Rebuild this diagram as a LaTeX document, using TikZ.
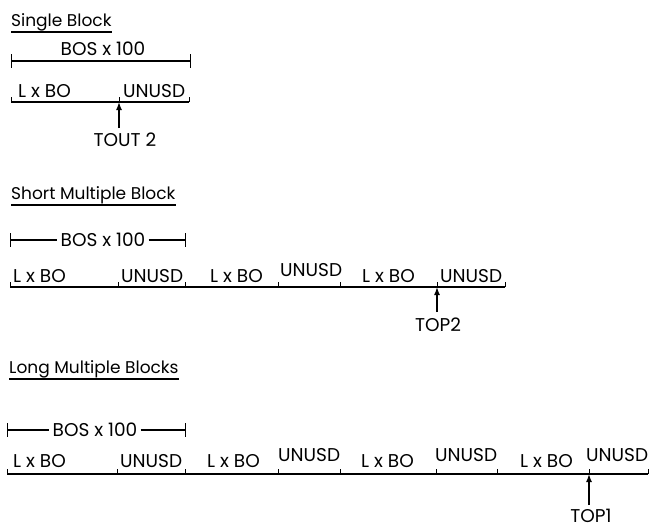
\documentclass[tikz,border=0pt]{standalone}
\usepackage{fontspec}
\setmainfont{Poppins}
\usetikzlibrary{positioning,arrows.meta}

\begin{document}
\begin{tikzpicture}[x=1pt,y=-1pt,
		lbl/.style={font=\fontsize{18.5}{18.5}\selectfont,inner sep=0pt,anchor=base west},
		ttl/.style={font=\fontsize{17}{17}\selectfont,inner sep=0pt,anchor=base west},
		dimtxt/.style={font=\fontsize{18.5}{18.5}\selectfont,inner sep=3pt},
		bar/.style={line width=1.1pt},
		ptr/.style={line width=1.4pt,-{Latex[length=8pt,width=6pt]}}]
	\useasboundingbox (0,0) rectangle (653,531);

	% single block
	\node[ttl] (tsingle) at (11,26) {Single Block};
	\draw[bar] ([yshift=-6pt]tsingle.base west) -- ([yshift=-6pt]tsingle.base east);
	\coordinate (d1l) at (11,61);
	\coordinate (d1r) at (190,61);
	\draw[bar] (d1l) -- (d1r);
	\draw ([yshift=7pt]d1l) -- ([yshift=-7pt]d1l);
	\draw ([yshift=7pt]d1r) -- ([yshift=-7pt]d1r);
	\node[dimtxt] (bos1) at (103,49) {BOS x 100};
	\foreach \x [count=\i] in {11,119,189}
		\coordinate (a\i) at (\x,102);
	\draw[bar] (a1) -- (a3);
	\foreach \i in {1,2,3}
		\draw (a\i) -- ++(0,-5);
	\node[lbl] (a1l) at (18,97) {L x BO};
	\node[lbl] (a2l) at (123,97) {UNUSD};
	\node[dimtxt,inner sep=0pt] (tout) at (125,140) {TOUT 2};
	\draw[ptr] (a2 |- 0,128) -- (a2);

	% short multiple block
	\node[ttl] (tshort) at (11,199) {Short Multiple Block};
	\draw[bar] ([yshift=-6pt]tshort.base west) -- ([yshift=-6pt]tshort.base east);
	\coordinate (d2l) at (10,240);
	\coordinate (d2r) at (185,240);
	\node[dimtxt] (bos2) at (103,240) {BOS x 100};
	\draw[bar] (d2l) -- (bos2);
	\draw[bar] (bos2) -- (d2r);
	\draw ([yshift=7pt]d2l) -- ([yshift=-7pt]d2l);
	\draw ([yshift=7pt]d2r) -- ([yshift=-7pt]d2r);
	\foreach \x [count=\i] in {10,118,185,278,340,437,505}
		\coordinate (b\i) at (\x,287);
	\draw[bar] (b1) -- (b7);
	\foreach \i in {1,...,7}
		\draw (b\i) -- ++(0,-5);
	\node[lbl] (b1l) at (13,282) {L x BO};
	\node[lbl] (b2l) at (121,282) {UNUSD};
	\node[lbl] (b3l) at (210,282) {L x BO};
	\node[lbl] (b4l) at (280,276) {UNUSD};
	\node[lbl] (b5l) at (362,282) {L x BO};
	\node[lbl] (b6l) at (440,282) {UNUSD};
	\node[dimtxt,inner sep=0pt] (top2) at (438,325) {TOP2};
	\draw[ptr] (b6 |- 0,312) -- (b6);

	% long multiple blocks
	\node[ttl] (tlong) at (9,373) {Long Multiple Blocks};
	\draw[bar] ([yshift=-6pt]tlong.base west) -- ([yshift=-6pt]tlong.base east);
	\coordinate (d3l) at (7,430);
	\coordinate (d3r) at (185,430);
	\node[dimtxt] (bos3) at (95,430) {BOS x 100};
	\draw[bar] (d3l) -- (bos3);
	\draw[bar] (bos3) -- (d3r);
	\draw ([yshift=7pt]d3l) -- ([yshift=-7pt]d3l);
	\draw ([yshift=7pt]d3r) -- ([yshift=-7pt]d3r);
	\foreach \x [count=\i] in {7,117,185,278,340,436,497,589,648}
		\coordinate (c\i) at (\x,474);
	\draw[bar] (c1) -- (c9);
	\foreach \i in {1,...,9}
		\draw (c\i) -- ++(0,-5);
	\node[lbl] (c1l) at (13,467) {L x BO};
	\node[lbl] (c2l) at (120,467) {UNUSD};
	\node[lbl] (c3l) at (207,467) {L x BO};
	\node[lbl] (c4l) at (278,461) {UNUSD};
	\node[lbl] (c5l) at (361,467) {L x BO};
	\node[lbl] (c6l) at (435,461) {UNUSD};
	\node[lbl] (c7l) at (520,467) {L x BO};
	\node[lbl] (c8l) at (586,461) {UNUSD};
	\node[dimtxt,inner sep=0pt] (top1) at (591,516) {TOP1};
	\draw[ptr] (c8 |- 0,505) -- (c8);
\end{tikzpicture}
\end{document}
